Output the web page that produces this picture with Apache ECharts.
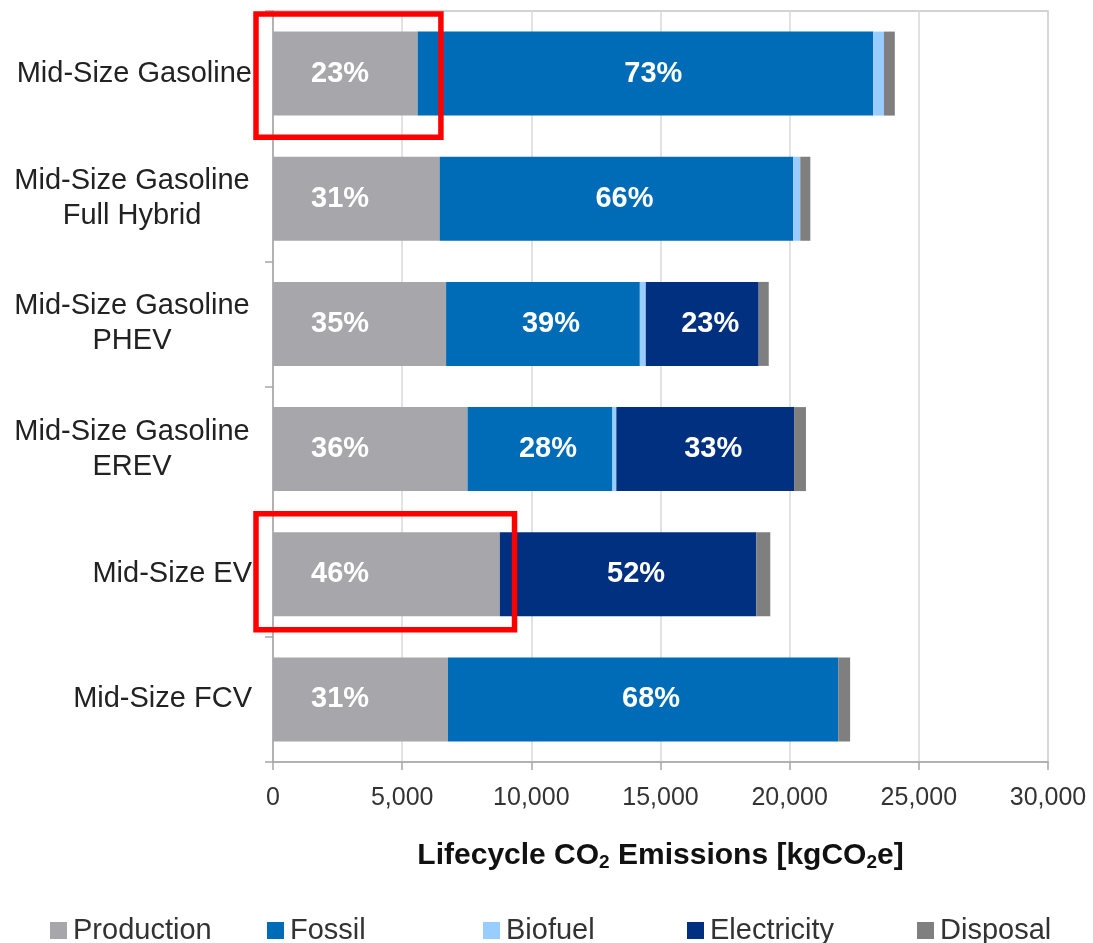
<!DOCTYPE html>
<html>
<head>
<meta charset="utf-8">
<script src="https://cdn.jsdelivr.net/npm/echarts@6/dist/echarts.min.js"></script>
<style>
html,body{margin:0;padding:0;background:#fff;}
#chart{width:1093px;height:943px;}
</style>
</head>
<body>
<div id="chart"></div>
<script>
// ---- data ----
var categories = ['Mid-Size Gasoline', 'Mid-Size Gasoline\nFull Hybrid', 'Mid-Size Gasoline\nPHEV', 'Mid-Size Gasoline\nEREV', 'Mid-Size EV', 'Mid-Size FCV'];
var production  = [5600, 6450, 6700, 7530, 8780, 6770];
var fossil      = [17630, 13690, 7500, 5610, 0, 15110];
var biofuel     = [420, 270, 230, 150, 0, 0];
var electricity = [0, 0, 4370, 6880, 9930, 0];
var disposal    = [420, 390, 390, 460, 540, 460];
var productionPct  = ['23%', '31%', '35%', '36%', '46%', '31%'];
var fossilPct      = ['73%', '66%', '39%', '28%', '', '68%'];
var electricityPct = ['', '', '23%', '33%', '52%', ''];
var xTicks = [0, 5000, 10000, 15000, 20000, 25000, 30000];
var seriesNames = ['Production', 'Fossil', 'Biofuel', 'Electricity', 'Disposal'];
// highlighted rows (category index) and the value where the red box ends
var highlightRows = [0, 4];
var highlightEnds = [6500, 9350];

var FONT = "'Liberation Sans', Arial, sans-serif";
var colors = {Production:'#A7A7AB', Fossil:'#006BB6', Biofuel:'#99CCFF', Electricity:'#00307F', Disposal:'#7F7F7F'};
var labelPlacement = {
  Production: {position: 'insideLeft', distance: 38, offset: [0, 0]},
  Fossil: {position: 'inside', offset: [8, 0]},
  Electricity: {position: 'inside', offset: [8, 0]}
};

function mk(name, values, labels) {
  var lp = labelPlacement[name] || {position: 'inside'};
  return {
    name: name, type: 'bar', stack: 'total', barWidth: 84,
    itemStyle: {color: colors[name]},
    data: values.map(function (v, i) {
      var d = {value: v};
      if (labels && labels[i]) {
        d.label = {show: true, formatter: labels[i]};
      }
      return d;
    }),
    label: {show: false, position: lp.position, distance: lp.distance, offset: lp.offset,
      color: '#fff', fontFamily: FONT, fontSize: 29, fontWeight: 'bold'}
  };
}

var chart = echarts.init(document.getElementById('chart'));
var legendLefts = [45, 262, 478, 682, 912];
var option = {
  animation: false,
  backgroundColor: '#fff',
  grid: {left: 273, right: 45, top: 11, bottom: 181, show: true, borderColor: '#C4C4C4', borderWidth: 1.5},
  legend: seriesNames.map(function (n, i) {
    return {data: [n], left: legendLefts[i], top: 911, icon: 'rect', itemWidth: 17, itemHeight: 17, itemGap: 8,
      textStyle: {fontFamily: FONT, fontSize: 29, color: '#333', padding: [0, 0, 0, 1]}};
  }),
  xAxis: {
    type: 'value', min: 0, max: 30000, interval: 5000,
    axisLine: {show: true, lineStyle: {color: '#A6A6A6', width: 1.5}},
    axisTick: {show: true, length: 8, lineStyle: {color: '#A6A6A6', width: 1.5}},
    splitLine: {show: true, lineStyle: {color: '#D9D9D9', width: 1.5}},
    axisLabel: {fontFamily: FONT, fontSize: 25, color: '#333', margin: 24,
      formatter: function (v) { return v.toLocaleString('en-US'); }},
    name: '{b|Lifecycle CO}{s|2}{b| Emissions [kgCO}{s|2}{b|e]}',
    nameLocation: 'middle', nameGap: 78,
    nameTextStyle: {
      rich: {
        b: {fontFamily: FONT, fontSize: 30, fontWeight: 'bold', color: '#111'},
        s: {fontFamily: FONT, fontSize: 19, fontWeight: 'bold', color: '#111', padding: [13, 0, 0, 0]}
      }
    }
  },
  yAxis: {
    type: 'category', data: categories, inverse: true,
    axisLine: {show: true, lineStyle: {color: '#A6A6A6', width: 1.5}},
    axisTick: {show: true, length: 8, lineStyle: {color: '#A6A6A6', width: 1.5}},
    axisLabel: {
      fontFamily: FONT, fontSize: 29, color: '#222', margin: 21, lineHeight: 35, align: 'right',
      formatter: function (v) {
        if (v.indexOf('\n') < 0) return v;
        return v.split('\n').map(function (s) { return '{c|' + s + '}'; }).join('\n');
      },
      rich: {c: {fontFamily: FONT, fontSize: 29, color: '#222', width: 240, align: 'center', lineHeight: 35}}
    }
  },
  series: [
    mk('Production', production, productionPct),
    mk('Fossil', fossil, fossilPct),
    mk('Biofuel', biofuel, null),
    mk('Electricity', electricity, electricityPct),
    mk('Disposal', disposal, null)
  ]
};
chart.setOption(option);

// red highlight boxes, positioned from the axes
var c0 = chart.convertToPixel({gridIndex: 0}, [0, categories[0]]);
var c1 = chart.convertToPixel({gridIndex: 0}, [0, categories[1]]);
var band = Math.abs(c1[1] - c0[1]);
var padTop = [3, 2], padBottom = [-1, 7];
var boxes = highlightRows.map(function (row, i) {
  var p0 = chart.convertToPixel({gridIndex: 0}, [0, categories[row]]);
  var p1 = chart.convertToPixel({gridIndex: 0}, [highlightEnds[i], categories[row]]);
  var x0 = p0[0] - 17, y0 = p0[1] - band / 2 + padTop[i], h = band - padTop[i] - padBottom[i];
  return {type: 'rect', z: 100, shape: {x: x0, y: y0, width: p1[0] - x0, height: h},
    style: {fill: 'none', stroke: '#FF0000', lineWidth: 5.5}};
});
chart.setOption({graphic: boxes});
</script>
</body>
</html>
